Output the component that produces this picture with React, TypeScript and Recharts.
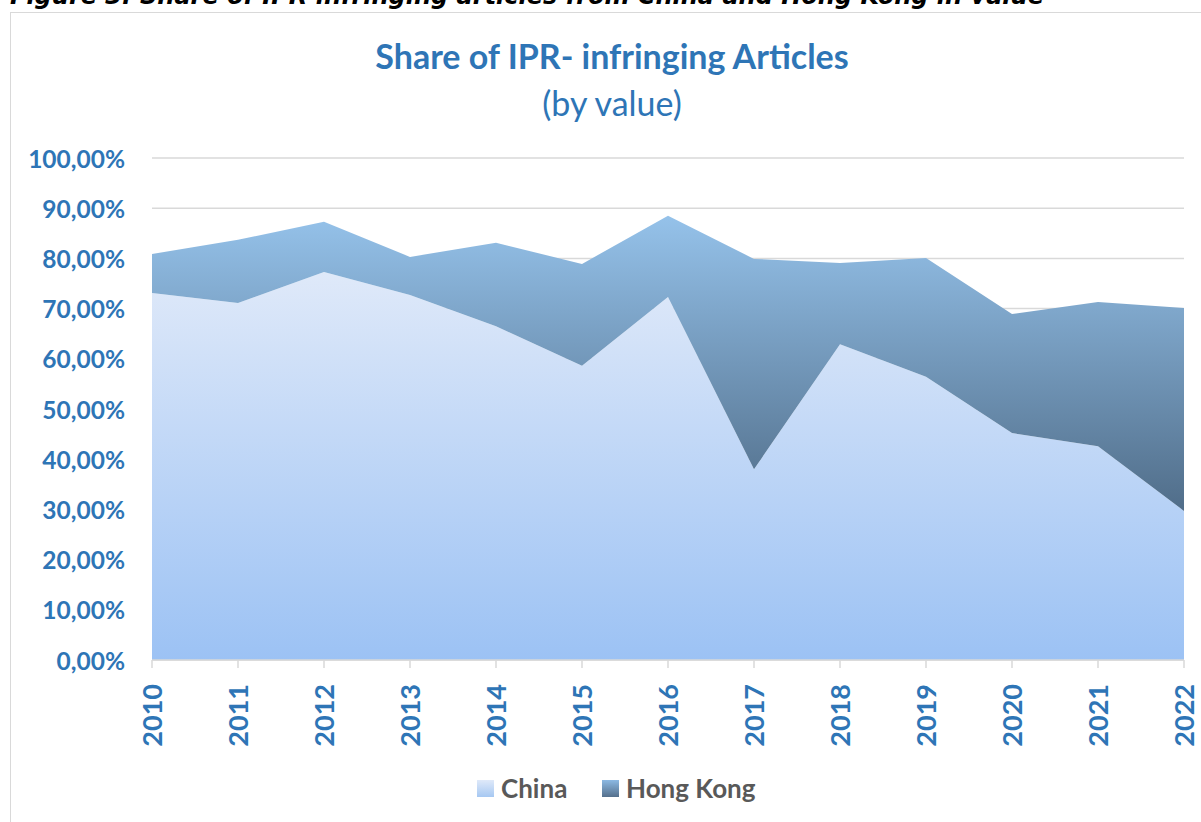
import { AreaChart, Area, XAxis, YAxis, CartesianGrid } from 'recharts'

const years = ['2010', '2011', '2012', '2013', '2014', '2015', '2016', '2017', '2018', '2019', '2020', '2021', '2022']
const china = [73.1, 71.1, 77.3, 72.7, 66.5, 58.6, 72.3, 38.0, 62.9, 56.4, 45.2, 42.6, 29.7]
const hongKong = [7.8, 12.6, 10.0, 7.6, 16.6, 20.3, 16.2, 41.9, 16.2, 23.7, 23.7, 28.7, 40.4]
const yTicks = [0, 10, 20, 30, 40, 50, 60, 70, 80, 90, 100]

const data = years.map((y, i) => ({ year: y, china: china[i], hongKong: hongKong[i] }))

const BLUE = '#2e75b6'
const GRID = '#d9d9d9'

function YTick({ y, payload }: any) {
  return (
    <text x={125} y={y} textAnchor="end" dominantBaseline="central"
      fontFamily="Lato" fontWeight="bold" fontSize={24.5} fill={BLUE}>
      {payload.value.toFixed(2).replace('.', ',') + '%'}
    </text>
  )
}

function XTick({ x, y, payload }: any) {
  return (
    <g transform={`translate(${x + 10},${y + 14})`}>
      <text transform="rotate(-90)" textAnchor="end"
        fontFamily="Lato" fontWeight="bold" fontSize={27} fill={BLUE}>
        {payload.value}
      </text>
    </g>
  )
}

export default function App() {
  return (
    <div style={{ position: 'absolute', left: 0, top: 0, width: 1201, height: 822, overflow: 'hidden', background: '#fff' }}>
      <div style={{
        position: 'absolute', left: 10, top: -16, whiteSpace: 'nowrap',
        fontFamily: 'DejaVu Sans', fontWeight: 'bold', fontStyle: 'italic', fontSize: 24, lineHeight: '24px', color: '#000',
      }}>
        Figure 3: Share of IPR infringing articles from China and Hong Kong in value
      </div>
      <div style={{ position: 'absolute', left: 10, top: 12, width: 1300, height: 900, border: '1.5px solid #d9d9d9' }} />

      <div style={{ position: 'absolute', left: 0, top: 36, width: 1224, textAlign: 'center', fontFamily: 'Lato', fontWeight: 'bold', fontSize: 34, color: BLUE, lineHeight: '40px' }}>
        Share of IPR- infringing Articles
      </div>
      <div style={{ position: 'absolute', left: 0, top: 83, width: 1224, textAlign: 'center', fontFamily: 'Lato', fontSize: 34, color: BLUE, lineHeight: '40px' }}>
        (by value)
      </div>

      <div style={{ position: 'absolute', left: 0, top: 0 }}>
        <AreaChart width={1201} height={822} data={data} margin={{ top: 158, right: 17, left: 12, bottom: 62 }}>
          <defs>
            <linearGradient id="gChina" x1="0" y1="0" x2="0" y2="1">
              <stop offset="0%" stopColor="#dfe9f9" />
              <stop offset="100%" stopColor="#9cc2f4" />
            </linearGradient>
            <linearGradient id="gHK" x1="0" y1="0" x2="0" y2="1">
              <stop offset="0%" stopColor="#95c2ea" />
              <stop offset="100%" stopColor="#506d89" />
            </linearGradient>
          </defs>
          <CartesianGrid vertical={false} stroke={GRID} strokeWidth={1.5} />
          <XAxis dataKey="year" height={100} stroke={GRID} strokeWidth={1.5} tickSize={8}
            tick={<XTick />} interval={0} />
          <YAxis type="number" domain={[0, 100]} ticks={yTicks} width={140}
            axisLine={false} tickLine={false} tick={<YTick />} />
          <Area type="linear" dataKey="china" stackId="1" stroke="none" fill="url(#gChina)" fillOpacity={1} isAnimationActive={false} />
          <Area type="linear" dataKey="hongKong" stackId="1" stroke="none" fill="url(#gHK)" fillOpacity={1} isAnimationActive={false} />
        </AreaChart>
      </div>

      <div style={{ position: 'absolute', left: 477, top: 780, width: 17, height: 17, background: 'linear-gradient(#dfe9f9, #a6c8f2)' }} />
      <div style={{ position: 'absolute', left: 501, top: 771, fontFamily: 'Lato', fontWeight: 'bold', fontSize: 26, lineHeight: '34px', color: '#595959' }}>China</div>
      <div style={{ position: 'absolute', left: 602, top: 780, width: 17, height: 17, background: 'linear-gradient(#8cb9e3, #55708c)' }} />
      <div style={{ position: 'absolute', left: 626, top: 771, fontFamily: 'Lato', fontWeight: 'bold', fontSize: 26, lineHeight: '34px', color: '#595959' }}>Hong Kong</div>
    </div>
  )
}
